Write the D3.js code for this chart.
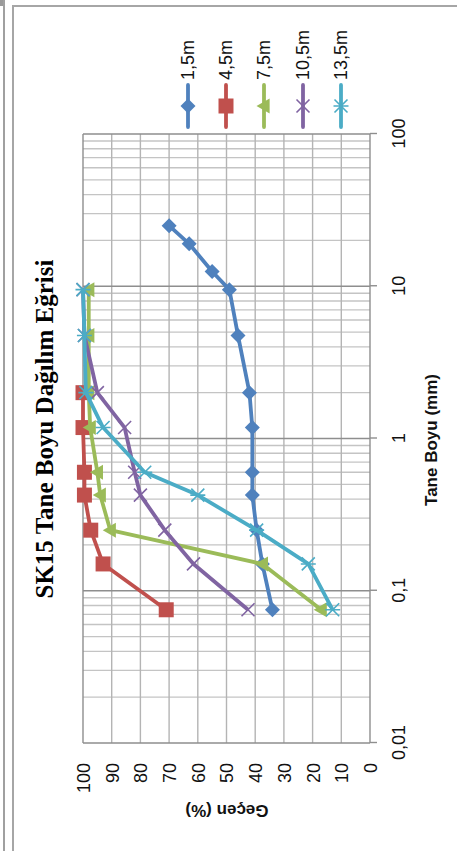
<!DOCTYPE html>
<html><head><meta charset="utf-8">
<script src="https://cdn.jsdelivr.net/npm/d3@7"></script>
<style>
html,body{margin:0;padding:0;background:#fff;}
svg{display:block;}
</style></head>
<body>
<svg id="c" width="457" height="851"></svg>
<script>
const title = "SK15 Tane Boyu Dağılım Eğrisi";
const xTitle = "Tane Boyu (mm)";
const yTitle = "Geçen (%)";
const sizes = [25, 19, 12.5, 9.5, 4.75, 2, 1.18, 0.6, 0.425, 0.25, 0.15, 0.075];
const seriesNames = ["1,5m", "4,5m", "7,5m", "10,5m", "13,5m"];
const s1_5  = [70, 63, 55, 49, 46, 42, 41, 41, 41, 39.5, 37.5, 34];
const s4_5  = [null, null, null, null, null, 100, 100, 99.5, 99.5, 97.3, 93, 71];
const s7_5  = [null, null, null, 98, 98, 98, 97.5, 95, 94, 90.5, 37.5, 17];
const s10_5 = [null, null, null, 100, 99.5, 95, 85.5, 82, 80, 71.5, 61.5, 42.5];
const s13_5 = [null, null, null, 100, 99.5, 99, 93, 78.5, 60, 39.5, 21.5, 13];
const xTicks = [0.01, 0.1, 1, 10, 100];
const yTicks = [0, 10, 20, 30, 40, 50, 60, 70, 80, 90, 100];
const colors = ["#4F81BD", "#C0504D", "#9BBB59", "#8064A2", "#4BACC6"];

const seriesVals = [s1_5, s4_5, s7_5, s10_5, s13_5];

const svg = d3.select("#c");
// decorative sheet frame
svg.append("rect").attr("x",0).attr("y",0).attr("width",5).attr("height",6).attr("fill","#9a9a9a");
svg.append("line").attr("x1",4).attr("x2",4).attr("y1",0).attr("y2",851).attr("stroke","#a0a0a0").attr("stroke-width",2);
svg.append("path").attr("d","M13,851V6H457").attr("fill","none").attr("stroke","#a6a6a6").attr("stroke-width",2);

// chart drawn in its own (unrotated) frame, then rotated -90
const W = 851, H = 457;
const g = svg.append("g").attr("transform", `translate(0,${W}) rotate(-90)`);

const x = d3.scaleLog().domain([0.01, 100]).range([108, 717]);
const y = d3.scaleLinear().domain([0, 100]).range([370, 83]);

// minor grid (log)
const minor = x.ticks().filter(v => !xTicks.some(t => Math.abs(t - v) / t < 1e-6));
g.append("g").selectAll("line").data(minor).join("line")
  .attr("x1", d => x(d)).attr("x2", d => x(d))
  .attr("y1", y(100)).attr("y2", y(0))
  .attr("stroke", "#c4c4c4").attr("stroke-width", 1.4);
// pct grid
g.append("g").selectAll("line").data(yTicks).join("line")
  .attr("x1", x(0.01)).attr("x2", x(100))
  .attr("y1", d => y(d)).attr("y2", d => y(d))
  .attr("stroke", d => (d === 0 || d === 100) ? "#8e8e8e" : "#b4b4b4").attr("stroke-width", 1.4);
// major decade lines
g.append("g").selectAll("line").data(xTicks).join("line")
  .attr("x1", d => x(d)).attr("x2", d => x(d))
  .attr("y1", y(100)).attr("y2", y(0))
  .attr("stroke", "#8e8e8e").attr("stroke-width", 1.4);

// x axis (log) at bottom of chart frame
const fmt = d => String(d).replace(".", ",");
const xAxis = g.append("g").attr("transform", `translate(0,${y(0)})`)
  .call(d3.axisBottom(x).tickValues(xTicks).tickFormat(fmt).tickSize(7).tickSizeOuter(0));
xAxis.select(".domain").remove();
xAxis.selectAll(".tick line").attr("stroke", "#8e8e8e").attr("stroke-width", 1.4);
xAxis.selectAll(".tick text").attr("y", 35).attr("dy", 0)
  .attr("font-family", "Liberation Sans, Arial, sans-serif").attr("font-size", 18).attr("fill", "#111");

// y axis (pct)
const yAxis = g.append("g").attr("transform", `translate(${x(0.01)},0)`)
  .call(d3.axisLeft(y).tickValues(yTicks).tickSize(0).tickSizeOuter(0));
yAxis.select(".domain").remove();
yAxis.selectAll(".tick text").attr("x", -20).attr("dy", "0.36em")
  .attr("font-family", "Liberation Sans, Arial, sans-serif").attr("font-size", 18).attr("fill", "#111");

// titles
g.append("text").attr("x", 422).attr("y", 53).attr("text-anchor", "middle")
  .attr("font-family", "Liberation Serif, Times New Roman, serif").attr("font-weight", "bold")
  .attr("font-size", 25).attr("fill", "#000").text(title);
g.append("text").attr("x", 411).attr("y", 437).attr("text-anchor", "middle")
  .attr("font-family", "Liberation Sans, Arial, sans-serif").attr("font-weight", "bold")
  .attr("font-size", 17).attr("fill", "#111").text(xTitle);
g.append("text").attr("transform", "translate(46,227) rotate(-90)").attr("text-anchor", "middle")
  .attr("font-family", "Liberation Sans, Arial, sans-serif").attr("font-weight", "bold")
  .attr("font-size", 17).attr("fill", "#111").text(yTitle);

// marker symbol types
const diamond = {draw(c, s){ const r = 7.5; c.moveTo(0,-r); c.lineTo(r,0); c.lineTo(0,r); c.lineTo(-r,0); c.closePath(); }};
const square = {draw(c, s){ const r = 7.5; c.moveTo(-r,-r); c.lineTo(r,-r); c.lineTo(r,r); c.lineTo(-r,r); c.closePath(); }};
const triangle = {draw(c, s){ const r = 7.5; c.moveTo(0,-r); c.lineTo(r,r*0.75); c.lineTo(-r,r*0.75); c.closePath(); }};
const cross = {draw(c, s){ const r = 6.5; c.moveTo(-r,-r); c.lineTo(r,r); c.moveTo(-r,r); c.lineTo(r,-r); }};
const star = {draw(c, s){ const r = 6.5; c.moveTo(-r,-r); c.lineTo(r,r); c.moveTo(-r,r); c.lineTo(r,-r); c.moveTo(0,-r-1); c.lineTo(0,r+1); }};
const types = [diamond, square, triangle, cross, star];
const filled = [true, true, true, false, false];

const line = d3.line().defined(d => d.v != null).x(d => x(d.s)).y(d => y(d.v));

seriesVals.forEach((vals, i) => {
  const pts = sizes.map((s, j) => ({s, v: vals[j]}));
  const sg = g.append("g");
  sg.append("path").attr("d", line(pts)).attr("fill", "none")
    .attr("stroke", colors[i]).attr("stroke-width", 3.8).attr("stroke-linejoin", "round");
  sg.selectAll("path.m").data(pts.filter(d => d.v != null)).join("path").attr("class", "m")
    .attr("transform", d => `translate(${x(d.s)},${y(d.v)})`)
    .attr("d", d3.symbol().type(types[i]).size(64)())
    .attr("fill", filled[i] ? colors[i] : "none")
    .attr("stroke", colors[i]).attr("stroke-width", filled[i] ? 0 : 1.6);
});

// legend
const legY = [188, 226, 264, 303, 341];
seriesNames.forEach((n, i) => {
  const lg = g.append("g").attr("transform", `translate(0,${legY[i]})`);
  lg.append("line").attr("x1", 724).attr("x2", 766).attr("y1", 0).attr("y2", 0)
    .attr("stroke", colors[i]).attr("stroke-width", 3.8).attr("stroke-linecap", "round");
  lg.append("path").attr("transform", "translate(745,0)")
    .attr("d", d3.symbol().type(types[i]).size(64)())
    .attr("fill", filled[i] ? colors[i] : "none")
    .attr("stroke", colors[i]).attr("stroke-width", filled[i] ? 0 : 1.6);
  lg.append("text").attr("x", 771).attr("y", 0).attr("dy", "0.36em")
    .attr("font-family", "Liberation Sans, Arial, sans-serif").attr("font-size", 18)
    .attr("fill", "#111").text(n);
});
</script>
</body></html>
